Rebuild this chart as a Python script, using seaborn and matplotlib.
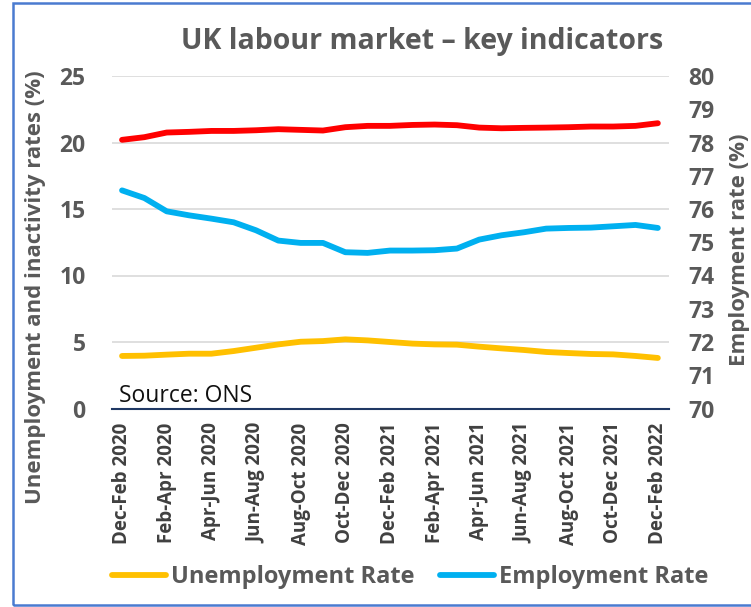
import matplotlib
matplotlib.use("Agg")
import matplotlib.pyplot as plt
import seaborn as sns
import pandas as pd
from matplotlib.patches import Rectangle
from matplotlib.lines import Line2D

# Rolling three-month periods, Dec-Feb 2020 to Dec-Feb 2022
periods = [
    "Dec-Feb 2020", "Jan-Mar 2020", "Feb-Apr 2020", "Mar-May 2020", "Apr-Jun 2020",
    "May-Jul 2020", "Jun-Aug 2020", "Jul-Sep 2020", "Aug-Oct 2020", "Sep-Nov 2020",
    "Oct-Dec 2020", "Nov-Jan 2021", "Dec-Feb 2021", "Jan-Mar 2021", "Feb-Apr 2021",
    "Mar-May 2021", "Apr-Jun 2021", "May-Jul 2021", "Jun-Aug 2021", "Jul-Sep 2021",
    "Aug-Oct 2021", "Sep-Nov 2021", "Oct-Dec 2021", "Nov-Jan 2022", "Dec-Feb 2022",
]
unemployment_rate = [3.95, 3.97, 4.05, 4.12, 4.12, 4.32, 4.57, 4.82, 5.02, 5.07,
                     5.20, 5.12, 5.00, 4.88, 4.82, 4.80, 4.65, 4.52, 4.40, 4.25,
                     4.17, 4.10, 4.07, 3.95, 3.80]
inactivity_rate = [20.20, 20.40, 20.75, 20.80, 20.87, 20.87, 20.92, 21.00, 20.95, 20.90,
                   21.15, 21.25, 21.25, 21.32, 21.35, 21.30, 21.12, 21.07, 21.10, 21.12,
                   21.15, 21.20, 21.20, 21.25, 21.45]
employment_rate = [76.56, 76.33, 75.93, 75.81, 75.71, 75.60, 75.36, 75.05, 74.98, 74.98,
                   74.70, 74.68, 74.75, 74.75, 74.76, 74.81, 75.08, 75.21, 75.30, 75.41,
                   75.43, 75.44, 75.48, 75.52, 75.43]
left_ticks = [0, 5, 10, 15, 20, 25]
right_ticks = [70, 71, 72, 73, 74, 75, 76, 77, 78, 79, 80]

df = pd.DataFrame({
    "idx": range(len(periods)),
    "period": periods,
    "Unemployment Rate": unemployment_rate,
    "Inactivity Rate": inactivity_rate,
    "Employment Rate": employment_rate,
})

sns.set_theme(style="white")
plt.rcParams["font.family"] = ["Open Sans", "DejaVu Sans"]

TXT = "#595959"
YELLOW = "#FFC000"
RED = "#FF0000"
BLUE = "#00B0F0"

fig = plt.figure(figsize=(7.51, 6.07), dpi=100)
ax = fig.add_axes([112 / 751, 1 - 408.5 / 607, 557 / 751, 332.5 / 607])
ax2 = ax.twinx()

sns.lineplot(data=df, x="idx", y="Unemployment Rate", ax=ax, color=YELLOW, lw=4.2,
             solid_capstyle="round", legend=False)
sns.lineplot(data=df, x="idx", y="Inactivity Rate", ax=ax, color=RED, lw=4.2,
             solid_capstyle="round", legend=False)
sns.lineplot(data=df, x="idx", y="Employment Rate", ax=ax2, color=BLUE, lw=4.2,
             solid_capstyle="round", legend=False)

ax.set_xlim(-0.45, 24.5)
ax.set_ylim(0, 25)
ax2.set_ylim(70, 80)
ax.set_yticks(left_ticks)
ax2.set_yticks(right_ticks)

# horizontal gridlines
for v in left_ticks[1:]:
    ax.axhline(v, color="#D9D9D9", lw=1.2, zorder=0)

for a in (ax, ax2):
    for s in ("top", "right", "left", "bottom"):
        a.spines[s].set_visible(False)
ax.spines["bottom"].set_visible(True)
ax.spines["bottom"].set_color("#1F3864")
ax.spines["bottom"].set_linewidth(1.5)

label_idx = list(range(0, len(periods), 2))
ax.set_xticks(label_idx)
ax.set_xticklabels([periods[i] for i in label_idx], rotation=90, fontsize=13.5,
                   fontweight="bold", color="#404040")
ax.tick_params(axis="x", length=0, pad=10)
ax.set_xticks([-0.45, 11.5, 23.5], minor=True)
ax.tick_params(axis="x", which="minor", direction="in", length=5, width=1.5,
               color="#1F3864")

ax.tick_params(axis="y", length=0, pad=19, labelsize=16.5, labelcolor=TXT)
ax2.tick_params(axis="y", length=0, pad=14, labelsize=16.5, labelcolor=TXT)
for t in ax.get_yticklabels() + ax2.get_yticklabels():
    t.set_fontweight("bold")

ax.set_xlabel("")
ax.set_ylabel("")
ax2.set_ylabel("")
fig.text(36 / 751, 1 - 287 / 607, "Unemployment and inactivity rates (%)", rotation=90,
         ha="center", va="center", fontsize=16, fontweight="bold", color=TXT)
fig.text(739 / 751, 1 - 250 / 607, "Employment rate (%)", rotation=90,
         ha="center", va="center", fontsize=16, fontweight="bold", color=TXT)

fig.text(422 / 751, 1 - 42 / 607, "UK labour market \u2013 key indicators",
         ha="center", va="center", fontsize=20.5, fontweight="bold", color=TXT)

ax.text(0.012, 0.0, "Source: ONS", transform=ax.transAxes, ha="left", va="bottom",
        fontsize=16.5, color="#111111")

handles = [Line2D([], [], color=YELLOW, lw=4.2, solid_capstyle="round"),
           Line2D([], [], color=BLUE, lw=4.2, solid_capstyle="round")]
fig.legend(handles, ["Unemployment Rate", "Employment Rate"], loc="center",
           bbox_to_anchor=(410 / 751, 1 - 577 / 607), ncol=2, frameon=False,
           prop={"weight": "bold", "size": 17}, labelcolor=TXT,
           handlelength=2.3, handletextpad=0.2, columnspacing=1.1)

# frame around the figure
fig.patches.append(Rectangle((13 / 751, 2 / 607), 1.0, 1 - 5 / 607,
                             transform=fig.transFigure, fill=False,
                             edgecolor="#4A7BD0", lw=1.8, clip_on=False))

fig.savefig("out.png", dpi=100, facecolor="white")
